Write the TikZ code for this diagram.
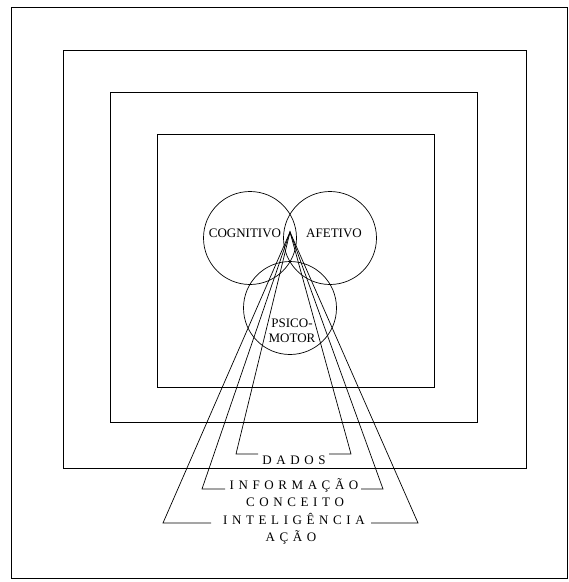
\documentclass[tikz,border=0pt]{standalone}
\usepackage{fontspec}
\setmainfont{Liberation Serif}
\newcommand\lsp{\kern4.6pt}
\begin{document}
\begin{tikzpicture}[x=1pt,y=-1pt,
  frame/.style={draw=black, line width=0.8pt},
  ring/.style={circle, draw=black, line width=0.7pt, inner sep=0pt, minimum size=93pt},
  wire/.style={draw=black, line width=0.7pt, line join=miter},
  ctext/.style={font=\fontsize{13}{14.5}\selectfont, inner sep=0pt, align=center},
  lbl/.style={font=\fontsize{13}{14}\selectfont, inner sep=0pt, anchor=base}]
\useasboundingbox (0,0) rectangle (569,582);
% frames
\draw[frame] (11,7) rectangle (567,578);
\draw[frame] (63,50) rectangle (526,468);
\draw[frame] (110,92) rectangle (477,422);
\draw[frame] (157,134) rectangle (434,387);
% circles
\node[ring] (cog) at (250,238) {};
\node[ring] (afe) at (330,238) {};
\node[ring] (psi) at (290,308) {};
\node[ctext] (tcog) at (245,233) {COGNITIVO};
\node[ctext] (tafe) at (334,233) {AFETIVO};
\node[ctext] (tpsi) at (292,331) {PSICO-\\MOTOR};
% labels
\node[lbl] (dados) at (294,464) {D\lsp A\lsp D\lsp O\lsp S};
\node[lbl] (info) at (294,489) {I\lsp N\lsp F\lsp O\lsp R\lsp M\lsp A\lsp Ç\lsp Ã\lsp O};
\node[lbl] (conc) at (295,506) {C\lsp O\lsp N\lsp C\lsp E\lsp I\lsp T\lsp O};
\node[lbl] (intel) at (294,524) {I\lsp N\lsp T\lsp E\lsp L\lsp I\lsp G\lsp Ê\lsp N\lsp C\lsp I\lsp A};
\node[lbl] (acao) at (291,541) {A\lsp Ç\lsp Ã\lsp O};
% brackets
\coordinate (apex) at (290,232);
\coordinate (dA) at (258,454); \coordinate (dB) at (236,454);
\coordinate (dC) at (351,454); \coordinate (dD) at (329,454);
\coordinate (iA) at (225,489); \coordinate (iB) at (202,489);
\coordinate (iC) at (383,489); \coordinate (iD) at (361,489);
\coordinate (gA) at (211,523); \coordinate (gB) at (163,523);
\coordinate (gC) at (418,523); \coordinate (gD) at (371,523);
\draw[wire] (dA) -- (dB) -- (apex) -- (dC) -- (dD);
\draw[wire] (iA) -- (iB) -- (apex) -- (iC) -- (iD);
\draw[wire] (gA) -- (gB) -- (apex) -- (gC) -- (gD);
\end{tikzpicture}
\end{document}
